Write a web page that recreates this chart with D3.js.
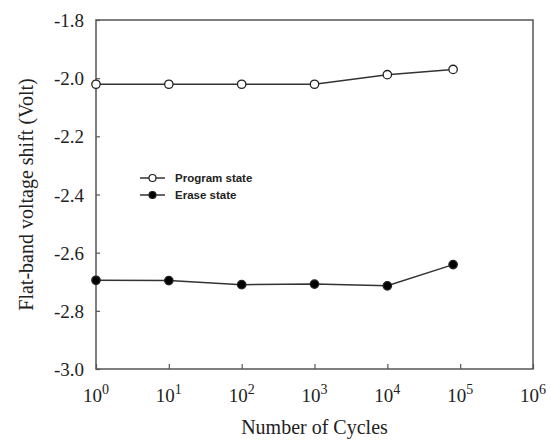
<!DOCTYPE html>
<html>
<head>
<meta charset="utf-8">
<script src="https://cdn.jsdelivr.net/npm/d3@7"></script>
<style>
  body { margin: 0; background: #fff; }
  text { font-family: "Liberation Serif", "Times New Roman", serif; fill: #222; }
</style>
</head>
<body>
<div id="chart"></div>
<script>
var cycles = [1, 10, 100, 1000, 10000, 80000];
var programState = [-2.021, -2.021, -2.021, -2.021, -1.988, -1.970];
var eraseState = [-2.695, -2.696, -2.710, -2.708, -2.714, -2.641];
var yTicks = [-1.8, -2.0, -2.2, -2.4, -2.6, -2.8, -3.0];
var xExponents = [0, 1, 2, 3, 4, 5, 6];

var width = 555, height = 442;
var plotLeft = 96, plotTop = 20, plotRight = 533, plotBottom = 369;

var svg = d3.select('#chart')
  .append('svg')
  .attr('width', width)
  .attr('height', height);

var x = d3.scaleLog().domain([1, 1e6]).range([plotLeft, plotRight]);
var y = d3.scaleLinear().domain([-3.0, -1.8]).range([plotBottom, plotTop]);

// frame
svg.append('rect')
  .attr('x', plotLeft).attr('y', plotTop)
  .attr('width', plotRight - plotLeft).attr('height', plotBottom - plotTop)
  .attr('fill', 'none').attr('stroke', '#555').attr('stroke-width', 1.5);

// y axis ticks (inward)
var yAxis = svg.append('g')
  .attr('transform', `translate(${plotLeft},0)`)
  .call(d3.axisRight(y).tickValues(yTicks).tickSize(4).tickFormat(''));
yAxis.select('.domain').remove();
yAxis.selectAll('line').attr('stroke', '#555').attr('stroke-width', 1.2);

svg.selectAll('.ylab')
  .data(yTicks)
  .enter()
  .append('text')
  .attr('class', 'ylab')
  .attr('x', plotLeft - 12)
  .attr('y', d => y(d) + 7)
  .attr('text-anchor', 'end')
  .attr('font-size', 19)
  .text(d => d.toFixed(1));

// x axis ticks (inward)
var xAxis = svg.append('g')
  .attr('transform', `translate(0,${plotBottom})`)
  .call(d3.axisTop(x).tickValues(xExponents.map(e => Math.pow(10, e))).tickSize(5).tickFormat(''));
xAxis.select('.domain').remove();
xAxis.selectAll('line').attr('stroke', '#555').attr('stroke-width', 1.2);

var xl = svg.selectAll('.xlab')
  .data(xExponents)
  .enter()
  .append('text')
  .attr('class', 'xlab')
  .attr('x', d => x(Math.pow(10, d)))
  .attr('y', plotBottom + 33)
  .attr('text-anchor', 'middle')
  .attr('font-size', 19);
xl.append('tspan').text('10');
xl.append('tspan').attr('dy', -8).attr('font-size', 14).text(d => d);

// axis titles
svg.append('text')
  .attr('x', (plotLeft + plotRight) / 2)
  .attr('y', 434)
  .attr('text-anchor', 'middle')
  .attr('font-size', 20)
  .text('Number of Cycles');

svg.append('text')
  .attr('transform', `translate(33,${(plotTop + plotBottom) / 2}) rotate(-90)`)
  .attr('text-anchor', 'middle')
  .attr('font-size', 20)
  .text('Flat-band voltage shift (Volt)');

var line = d3.line()
  .x(d => x(d[0]))
  .y(d => y(d[1]));

var series = [
  {name: 'Program state', values: programState, fill: '#fff'},
  {name: 'Erase state', values: eraseState, fill: '#000'}
];

series.forEach(function(s) {
  var pts = cycles.map((c, i) => [c, s.values[i]]);
  svg.append('path')
    .datum(pts)
    .attr('d', line)
    .attr('fill', 'none')
    .attr('stroke', '#333')
    .attr('stroke-width', 1.5);
  svg.selectAll(null)
    .data(pts)
    .enter()
    .append('circle')
    .attr('cx', d => x(d[0]))
    .attr('cy', d => y(d[1]))
    .attr('r', 4.2)
    .attr('fill', s.fill)
    .attr('stroke', '#222')
    .attr('stroke-width', 1.3);
});

// legend
var legend = svg.append('g').attr('transform', 'translate(140,178)');
series.forEach(function(s, i) {
  var g = legend.append('g').attr('transform', `translate(0,${i * 17})`);
  g.append('line').attr('x1', 0).attr('x2', 25).attr('y1', 0).attr('y2', 0)
    .attr('stroke', '#333').attr('stroke-width', 1.5);
  g.append('circle').attr('cx', 12.5).attr('cy', 0).attr('r', 3.5)
    .attr('fill', s.fill).attr('stroke', '#222').attr('stroke-width', 1.2);
  g.append('text').attr('x', 35).attr('y', 4)
    .style('font-family', '"Liberation Sans", Arial, sans-serif')
    .attr('font-weight', 'bold')
    .attr('font-size', 11.5)
    .text(s.name);
});
</script>
</body>
</html>
